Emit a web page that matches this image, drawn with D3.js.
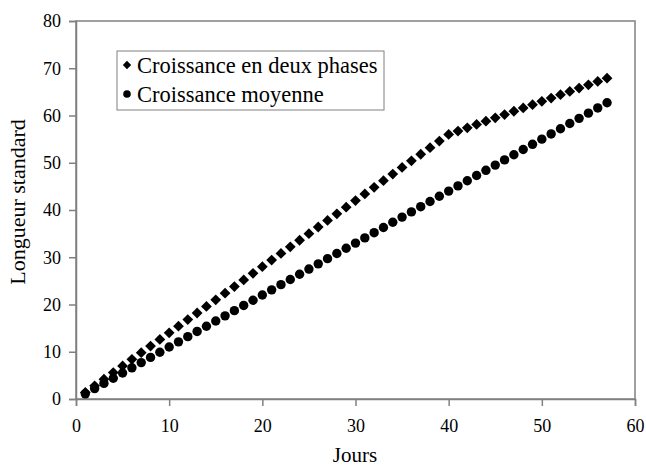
<!DOCTYPE html>
<html>
<head>
<meta charset="utf-8">
<script src="https://cdn.jsdelivr.net/npm/d3@7"></script>
<style>
  body { margin: 0; background: #fff; }
  svg text { font-family: "Liberation Serif", "Times New Roman", serif; fill: #000; }
</style>
</head>
<body>
<svg width="646" height="469"></svg>
<script>
// jours (days)
const jours = d3.range(1, 58);

// Croissance en deux phases
const deuxPhases = [
    1.4, 2.8, 4.2, 5.6, 7.0, 8.4, 9.8, 11.2, 12.6, 14.0,
    15.4, 16.8, 18.2, 19.6, 21.0, 22.4, 23.8, 25.2, 26.6, 28.0,
    29.4, 30.8, 32.2, 33.6, 35.0, 36.4, 37.8, 39.2, 40.6, 42.0,
    43.4, 44.8, 46.2, 47.6, 49.0, 50.4, 51.8, 53.2, 54.6, 56.0,
    56.7, 57.4, 58.1, 58.8, 59.5, 60.2, 60.9, 61.6, 62.3, 63.0,
    63.7, 64.4, 65.1, 65.8, 66.5, 67.2, 67.9
];

// Croissance moyenne
const moyenne = [
    1.1, 2.2, 3.3, 4.4, 5.5, 6.6, 7.7, 8.8, 9.9, 11.0,
    12.1, 13.2, 14.3, 15.4, 16.5, 17.6, 18.7, 19.8, 20.9, 22.0,
    23.1, 24.2, 25.3, 26.4, 27.5, 28.6, 29.7, 30.8, 31.9, 33.0,
    34.1, 35.2, 36.3, 37.4, 38.5, 39.6, 40.7, 41.8, 42.9, 44.0,
    45.1, 46.2, 47.3, 48.4, 49.5, 50.6, 51.7, 52.8, 53.9, 55.0,
    56.1, 57.2, 58.3, 59.4, 60.5, 61.6, 62.7
];

const xTicks = [0, 10, 20, 30, 40, 50, 60];
const yTicks = [0, 10, 20, 30, 40, 50, 60, 70, 80];
const legendLabels = ['Croissance en deux phases', 'Croissance moyenne'];

const serif = '"Liberation Serif", "Times New Roman", serif';
const svg = d3.select('svg');
const plotLeft = 76, plotRight = 635, plotTop = 21, plotBottom = 399;
const axisColor = '#808080';

const x = d3.scaleLinear().domain([0, 60]).range([plotLeft, plotRight]);
const y = d3.scaleLinear().domain([0, 80]).range([plotBottom, plotTop]);

// plot area frame
svg.append('rect')
    .attr('x', plotLeft).attr('y', plotTop)
    .attr('width', plotRight - plotLeft).attr('height', plotBottom - plotTop)
    .attr('fill', 'none').attr('stroke', axisColor).attr('stroke-width', 1.5);

const xAxis = svg.append('g')
    .attr('transform', 'translate(0,' + plotBottom + ')')
    .call(d3.axisBottom(x).tickValues(xTicks).tickSize(7).tickPadding(13));
const yAxis = svg.append('g')
    .attr('transform', 'translate(' + plotLeft + ',0)')
    .call(d3.axisLeft(y).tickValues(yTicks).tickSize(7).tickPadding(8));

[xAxis, yAxis].forEach((g) => {
    g.attr('font-family', serif).attr('font-size', 18);
    g.select('.domain').attr('stroke', axisColor).attr('stroke-width', 1.5);
    g.selectAll('.tick line').attr('stroke', axisColor).attr('stroke-width', 1.5);
    g.selectAll('.tick text').attr('fill', '#000');
});

// axis titles
svg.append('text')
    .attr('x', 355).attr('y', 462)
    .attr('text-anchor', 'middle')
    .style('font-size', '21px')
    .text('Jours');
svg.append('text')
    .attr('transform', 'translate(25,202) rotate(-90)')
    .attr('text-anchor', 'middle')
    .style('font-size', '22px')
    .text('Longueur standard');

// series
const diamond = d3.symbol().type(d3.symbolDiamond2).size(74);
svg.append('g').selectAll('path')
    .data(jours)
    .enter().append('path')
    .attr('d', diamond)
    .attr('transform', (d, i) => 'translate(' + x(d) + ',' + y(deuxPhases[i]) + ')')
    .attr('fill', '#000');

svg.append('g').selectAll('circle')
    .data(jours)
    .enter().append('circle')
    .attr('cx', (d) => x(d))
    .attr('cy', (d, i) => y(moyenne[i]))
    .attr('r', 4.7)
    .attr('fill', '#000');

// legend
const legend = svg.append('g');
legend.append('rect')
    .attr('x', 117).attr('y', 51)
    .attr('width', 267).attr('height', 59)
    .attr('fill', '#fff').attr('stroke', axisColor).attr('stroke-width', 1);

legendLabels.forEach((label, i) => {
    const cy = 65 + i * 29;
    if (i === 0) {
        legend.append('path')
            .attr('d', d3.symbol().type(d3.symbolDiamond2).size(44))
            .attr('transform', 'translate(127,' + cy + ')');
    } else {
        legend.append('circle')
            .attr('cx', 127).attr('cy', cy).attr('r', 3.8);
    }
    legend.append('text')
        .attr('x', 137).attr('y', cy)
        .attr('dy', '0.35em')
        .style('font-size', '22.5px')
        .text(label);
});
</script>
</body>
</html>
